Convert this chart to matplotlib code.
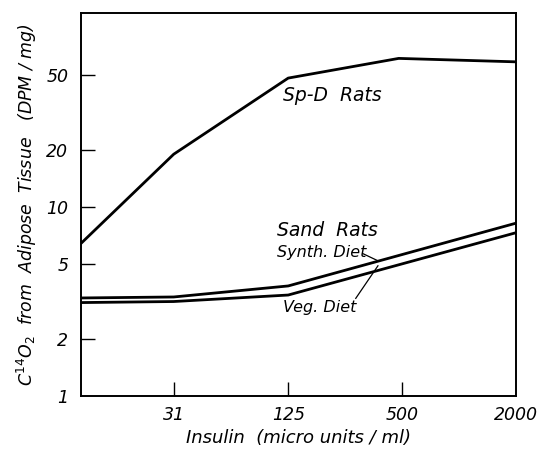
import matplotlib
matplotlib.use("Agg")
import matplotlib.pyplot as plt
from matplotlib.ticker import FixedLocator, NullLocator

# Data
insulin = [10, 31, 125, 480, 2000]
spd_rats = [6.4, 19.0, 48.0, 61.0, 58.5]
insulin_sand = [10, 31, 125, 2000]
synth_diet = [3.3, 3.34, 3.82, 8.2]
veg_diet = [3.12, 3.16, 3.42, 7.3]

xticks = [31, 125, 500, 2000]
xtick_labels = ["31", "125", "500", "2000"]
yticks = [1, 2, 5, 10, 20, 50]
ytick_labels = ["1", "2", "5", "10", "20", "50"]

plt.rcParams['font.family'] = ["DejaVu Sans"]

fig = plt.figure(figsize=(5.39, 4.49), dpi=100)
ax = fig.add_axes([0.150, 0.118, 0.807, 0.853])

ax.plot(insulin, spd_rats, color="black", lw=2.0)
ax.plot(insulin_sand, synth_diet, color="black", lw=2.0)
ax.plot(insulin_sand, veg_diet, color="black", lw=2.0)

ax.set_xscale("log")
ax.set_yscale("log")
ax.set_xlim(10, 2000)
ax.set_ylim(1, 106)

ax.xaxis.set_major_locator(FixedLocator(xticks))
ax.xaxis.set_minor_locator(NullLocator())
ax.set_xticklabels(xtick_labels)
ax.yaxis.set_major_locator(FixedLocator(yticks))
ax.yaxis.set_minor_locator(NullLocator())
ax.set_yticklabels(ytick_labels)

ax.tick_params(axis="both", direction="in", length=10, width=1.0,
               labelsize=12.5)
ax.tick_params(axis="x", pad=7)
ax.tick_params(axis="y", pad=9)
for lab in ax.get_xticklabels() + ax.get_yticklabels():
    lab.set_fontstyle("italic")
ax.yaxis.get_major_ticks()[0].tick1line.set_visible(False)
ax.xaxis.get_major_ticks()[-1].tick1line.set_visible(False)

for s in ax.spines.values():
    s.set_linewidth(1.4)

ax.set_xlabel("Insulin  (micro units / ml)", fontsize=13, style="italic", labelpad=4)
ax.set_ylabel(r"C$^{14}$O$_2$  from  Adipose  Tissue   (DPM / mg)",
              fontsize=12.5, style="italic", labelpad=5)

ax.text(0.465, 0.785, "Sp-D  Rats", transform=ax.transAxes, fontsize=13.5,
        style="italic", va="center", ha="left")
ax.text(0.452, 0.433, "Sand  Rats", transform=ax.transAxes, fontsize=13.5,
        style="italic", va="center", ha="left")
ax.text(0.452, 0.376, "Synth. Diet", transform=ax.transAxes, fontsize=11.5,
        style="italic", va="center", ha="left")
ax.text(0.465, 0.232, "Veg. Diet", transform=ax.transAxes, fontsize=11.5,
        style="italic", va="center", ha="left")

# leader lines
ax.plot([0.648, 0.685], [0.372, 0.352], transform=ax.transAxes, color="black", lw=0.9)
ax.plot([0.632, 0.683], [0.255, 0.340], transform=ax.transAxes, color="black", lw=0.9)

fig.savefig("out.png", dpi=100)
